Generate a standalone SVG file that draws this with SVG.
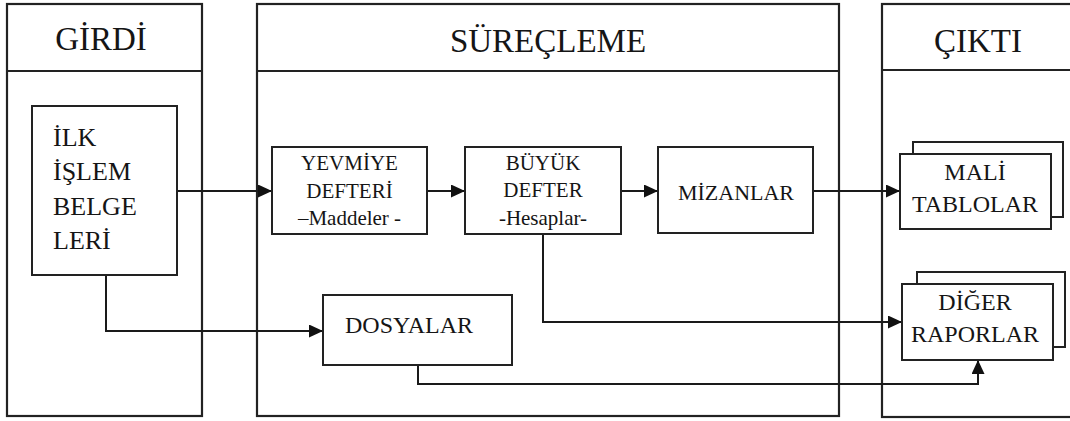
<svg xmlns="http://www.w3.org/2000/svg" width="1070" height="421" viewBox="0 0 1070 421">
<style>
.frame{fill:none;stroke:#222;stroke-width:2.2}
.box{fill:#fff;stroke:#222;stroke-width:2}
.conn{fill:none;stroke:#1a1a1a;stroke-width:2}
text{font-family:'Liberation Serif','Tinos','Times New Roman','DejaVu Serif',serif;fill:#151515}
.hd{font-size:33px;text-anchor:middle}
.big{font-size:26px}
.mid{font-size:21px;text-anchor:middle}
.out{font-size:24px;text-anchor:middle}
</style>
<defs>
<marker id="arr" markerUnits="userSpaceOnUse" markerWidth="14" markerHeight="13" refX="14" refY="6.5" orient="auto">
<path d="M0,0 L14,6.5 L0,13 z" fill="#111"/>
</marker>
</defs>
<rect width="1070" height="421" fill="#fff"/>

<g id="girdi">
<rect class="frame" x="7" y="4" width="195" height="412"/>
<line class="frame" x1="7" y1="71" x2="202" y2="71"/>
<text class="hd" x="101" y="50" font-family="Liberation Serif, serif">GİRDİ</text>
</g>
<g id="surecleme">
<rect class="frame" x="257" y="4" width="582" height="412"/>
<line class="frame" x1="257" y1="71" x2="839" y2="71"/>
<text class="hd" x="548" y="52">SÜREÇLEME</text>
</g>
<g id="cikti">
<rect class="frame" x="882" y="4" width="200" height="413"/>
<line class="frame" x1="882" y1="70" x2="1070" y2="70"/>
<text class="hd" x="978" y="52">ÇIKTI</text>
</g>

<g id="connectors">
<line class="conn" x1="177" y1="191" x2="272" y2="191" marker-end="url(#arr)"/>
<line class="conn" x1="427" y1="191" x2="465" y2="191" marker-end="url(#arr)"/>
<line class="conn" x1="621" y1="191" x2="658" y2="191" marker-end="url(#arr)"/>
<line class="conn" x1="813" y1="191" x2="900" y2="191" marker-end="url(#arr)"/>
<polyline class="conn" points="106,275 106,331 323,331" marker-end="url(#arr)"/>
<polyline class="conn" points="543,234 543,322 902,322" marker-end="url(#arr)"/>
<polyline class="conn" points="418,365 418,384 978,384 978,360" marker-end="url(#arr)"/>
</g>

<g id="ilk">
<rect class="box" x="32" y="106" width="145" height="169"/>
<text class="big" x="53" y="146">İLK</text>
<text class="big" x="53" y="180">İŞLEM</text>
<text class="big" x="53" y="215">BELGE</text>
<text class="big" x="53" y="249">LERİ</text>
</g>
<g id="yevmiye">
<rect class="box" x="272" y="147" width="155" height="87"/>
<text class="mid" x="349.5" y="170">YEVMİYE</text>
<text class="mid" x="349.5" y="198">DEFTERİ</text>
<text class="mid" x="349.5" y="225">–Maddeler -</text>
</g>
<g id="buyuk">
<rect class="box" x="465" y="147" width="156" height="87"/>
<text class="mid" x="543" y="170">BÜYÜK</text>
<text class="mid" x="543" y="197">DEFTER</text>
<text class="mid" x="543" y="225">-Hesaplar-</text>
</g>
<g id="mizanlar">
<rect class="box" x="658" y="147" width="155" height="86"/>
<text x="736" y="200" style="font-size:22px;text-anchor:middle">MİZANLAR</text>
</g>
<g id="dosyalar">
<rect class="box" x="323" y="295" width="189" height="70"/>
<text x="345" y="333" style="font-size:24px">DOSYALAR</text>
</g>
<g id="mali">
<rect class="box" x="913" y="142" width="150" height="75"/>
<rect class="box" x="900" y="154" width="151" height="75"/>
<text class="out" x="975" y="180">MALİ</text>
<text class="out" x="975" y="212">TABLOLAR</text>
</g>
<g id="diger">
<rect class="box" x="917" y="272" width="148" height="75"/>
<rect class="box" x="902" y="284" width="151" height="76"/>
<text class="out" x="975" y="310">DİĞER</text>
<text class="out" x="975" y="342">RAPORLAR</text>
</g>
</svg>
